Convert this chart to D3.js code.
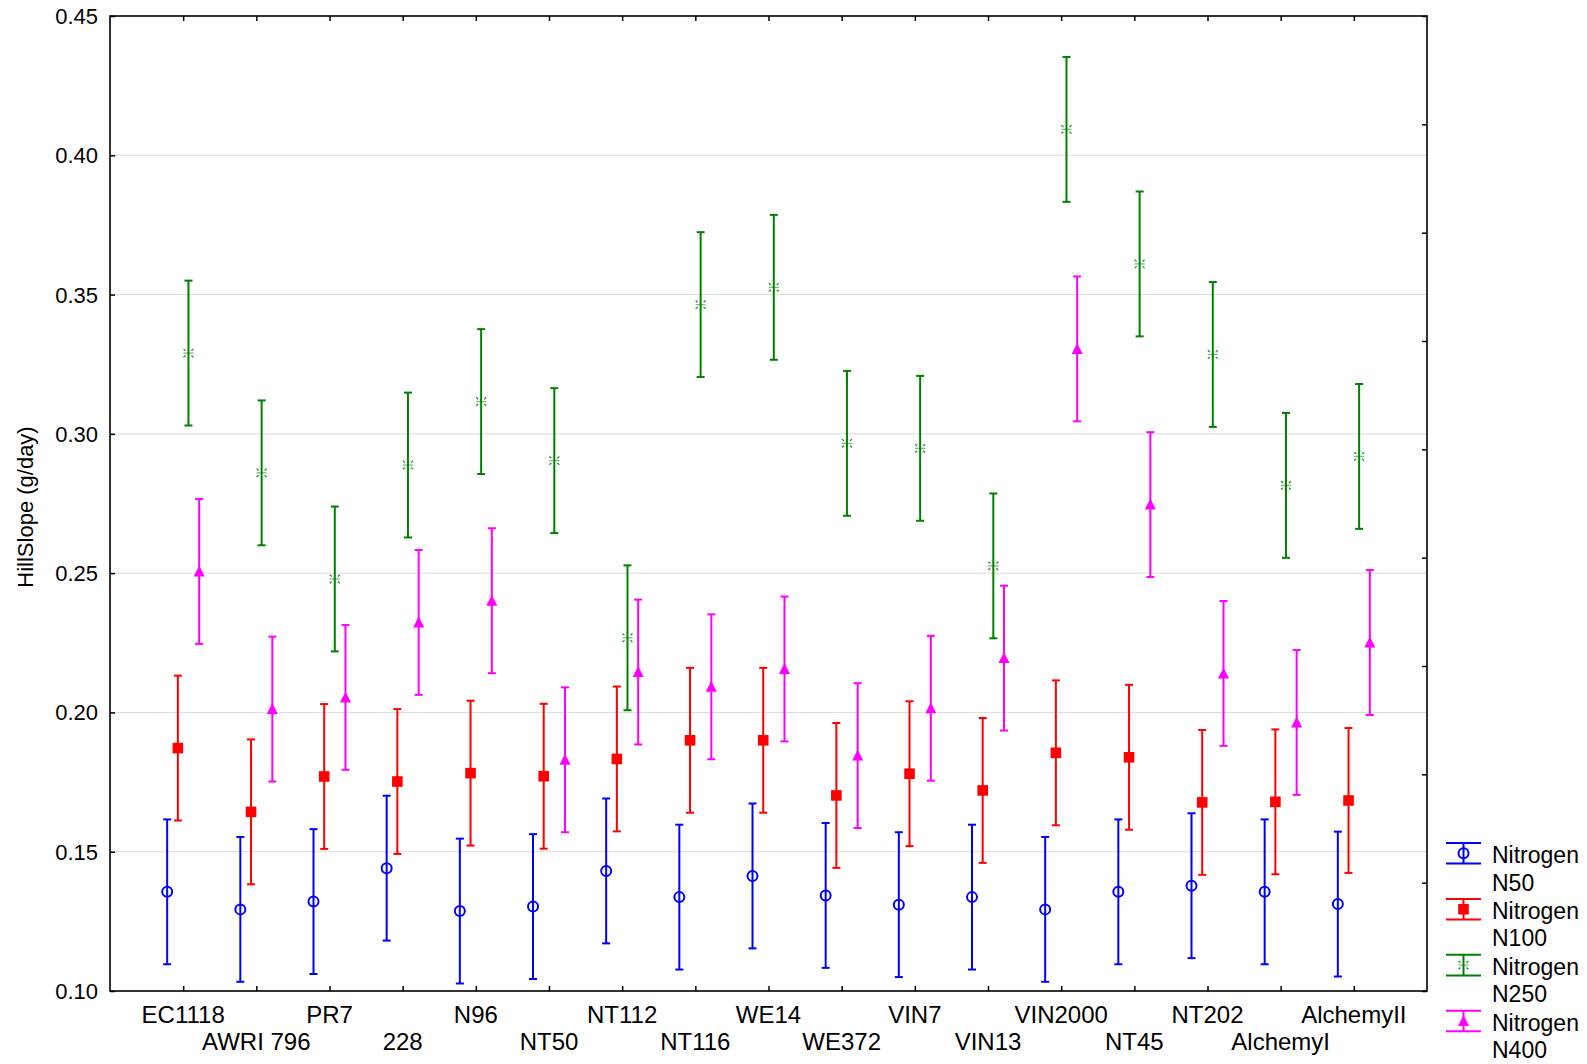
<!DOCTYPE html>
<html>
<head>
<meta charset="utf-8">
<script src="https://cdn.jsdelivr.net/npm/d3@7"></script>
<style>
  body { margin: 0; background: #fff; }
  text { font-family: Arial, "Liberation Sans", sans-serif; fill: #000; }
</style>
</head>
<body>
<svg id="chart" width="1587" height="1064"></svg>
<script>
// Yeast strains on the x axis
const strains = ["EC1118", "AWRI 796", "PR7", "228", "N96", "NT50", "NT112", "NT116", "WE14",
                 "WE372", "VIN7", "VIN13", "VIN2000", "NT45", "NT202", "AlchemyI", "AlchemyII"];

// Mean HillSlope (g/day) per strain for each nitrogen level
const n50  = [0.1356, 0.1293, 0.1321, 0.1441, 0.1287, 0.1303, 0.1431, 0.1337, 0.1413,
              0.1343, 0.1310, 0.1337, 0.1293, 0.1356, 0.1378, 0.1356, 0.1312];
const n100 = [0.1872, 0.1643, 0.1770, 0.1752, 0.1782, 0.1771, 0.1833, 0.1900, 0.1900,
              0.1702, 0.1780, 0.1720, 0.1855, 0.1839, 0.1677, 0.1679, 0.1684];
const n250 = [0.3290, 0.2860, 0.2479, 0.2888, 0.3116, 0.2904, 0.2268, 0.3464, 0.3526,
              0.2966, 0.2948, 0.2526, 0.4093, 0.3610, 0.3285, 0.2815, 0.2919];
const n400 = [0.2506, 0.2012, 0.2054, 0.2323, 0.2401, 0.1830, 0.2145, 0.2092, 0.2156,
              0.1845, 0.2015, 0.2195, 0.3305, 0.2746, 0.2140, 0.1964, 0.2251];

// Half-width of the confidence interval (pooled, same for every mean)
const ciHalf = 0.026;

const seriesLabels = [["Nitrogen", "N50"], ["Nitrogen", "N100"], ["Nitrogen", "N250"], ["Nitrogen", "N400"]];
const yTicks = [0.10, 0.15, 0.20, 0.25, 0.30, 0.35, 0.40, 0.45];
const yTitle = "HillSlope (g/day)";

const seriesValues = [n50, n100, n250, n400];
const colors = ["#0000ff", "#ff0000", "#008000", "#ff00ff"];
const symbols = ["circle", "square", "asterisk", "triangle"];

const svg = d3.select("#chart");
const L = 110, R = 1427, T = 16, B = 991;

const x = d3.scalePoint().domain(strains).range([L, R]).padding(1);
const y = d3.scaleLinear().domain([0.10, 0.45]).range([B, T]);
const offsets = [-16, -5.3, 5.3, 16];

// horizontal grid
svg.append("g").selectAll("line")
  .data(yTicks.filter(t => t > 0.10 && t < 0.45))
  .join("line")
  .attr("x1", L).attr("x2", R)
  .attr("y1", d => y(d)).attr("y2", d => y(d))
  .attr("stroke", "#dcdcdc").attr("stroke-width", 1);

// axes: ticks pointing inward
const fmt = d3.format(".2f");
const leftAxis = svg.append("g").attr("transform", `translate(${L},0)`)
  .call(d3.axisRight(y).tickValues(yTicks).tickSize(5).tickFormat(""));
const bottomAxis = svg.append("g").attr("transform", `translate(0,${B})`)
  .call(d3.axisTop(x).tickSize(5).tickFormat(""));
const topAxis = svg.append("g").attr("transform", `translate(0,${T})`)
  .call(d3.axisBottom(x).tickSize(5).tickFormat(""));
const yRight = d3.scaleLinear().domain([0, 9]).range([B, T]);
const rightAxis = svg.append("g").attr("transform", `translate(${R},0)`)
  .call(d3.axisLeft(yRight).ticks(9).tickSize(5).tickFormat(""));
[leftAxis, bottomAxis, topAxis, rightAxis].forEach(g => {
  g.select(".domain").remove();
  g.selectAll(".tick line").attr("stroke", "#000").attr("stroke-width", 1.5);
});

// frame
svg.append("rect").attr("x", L).attr("y", T).attr("width", R - L).attr("height", B - T)
  .attr("fill", "none").attr("stroke", "#000").attr("stroke-width", 1.6);

// y tick labels
svg.append("g").selectAll("text").data(yTicks).join("text")
  .attr("x", 98).attr("y", d => y(d) + 8)
  .attr("text-anchor", "end").attr("font-size", 22)
  .text(d => fmt(d));

// x tick labels, staggered on two rows
svg.append("g").selectAll("text").data(strains).join("text")
  .attr("x", d => x(d))
  .attr("y", (d, i) => i % 2 === 0 ? 1023 : 1050)
  .attr("text-anchor", "middle").attr("font-size", 24)
  .text(d => d);

// y axis title
svg.append("text")
  .attr("transform", "translate(33,507) rotate(-90)")
  .attr("text-anchor", "middle").attr("font-size", 22)
  .text(yTitle);

function drawSymbol(g, kind, color) {
  if (kind === "circle") {
    g.append("circle").attr("r", 5).attr("fill", "none").attr("stroke", color).attr("stroke-width", 2);
  } else if (kind === "square") {
    g.append("rect").attr("x", -5.3).attr("y", -5.3).attr("width", 10.6).attr("height", 10.6).attr("fill", color);
  } else if (kind === "triangle") {
    g.append("path").attr("d", "M0,-6 L5.5,5 L-5.5,5 Z").attr("fill", color);
  } else {
    const a = g.append("g").attr("stroke", color).attr("stroke-width", 1.3).attr("opacity", 0.85);
    [[-1, -1], [1, -1], [-1, 1], [1, 1]].forEach(([sx, sy]) => {
      a.append("line").attr("x1", sx * 5).attr("y1", sy * 4.2).attr("x2", sx * 3).attr("y2", sy * 2.4);
    });
    a.append("line").attr("x1", -5).attr("x2", 5).attr("y1", 0).attr("y2", 0).attr("opacity", 0.6);
  }
}

// error bars and means
seriesValues.forEach((vals, s) => {
  const color = colors[s];
  const g = svg.append("g");
  vals.forEach((v, i) => {
    const cx = x(strains[i]) + offsets[s];
    const yt = y(v + ciHalf), yb = y(v - ciHalf);
    g.append("line").attr("x1", cx).attr("x2", cx).attr("y1", yt).attr("y2", yb)
      .attr("stroke", color).attr("stroke-width", 2);
    [yt, yb].forEach(yy => g.append("line").attr("x1", cx - 4).attr("x2", cx + 4)
      .attr("y1", yy).attr("y2", yy).attr("stroke", color).attr("stroke-width", 2));
    drawSymbol(g.append("g").attr("transform", `translate(${cx},${y(v)})`), symbols[s], color);
  });
});

// legend
const lg = svg.append("g");
seriesLabels.forEach((lab, s) => {
  const y0 = 843 + s * 55.9;
  const color = colors[s];
  const e = lg.append("g");
  [y0, y0 + 20.6].forEach(yy => e.append("line").attr("x1", 1446).attr("x2", 1481)
    .attr("y1", yy).attr("y2", yy).attr("stroke", color).attr("stroke-width", 2));
  e.append("line").attr("x1", 1463.5).attr("x2", 1463.5).attr("y1", y0).attr("y2", y0 + 20.6)
    .attr("stroke", color).attr("stroke-width", 2);
  drawSymbol(e.append("g").attr("transform", `translate(1463.5,${y0 + 10.3})`), symbols[s], color);
  e.append("text").attr("x", 1492).attr("y", y0 + 20).attr("font-size", 23).text(lab[0]);
  e.append("text").attr("x", 1492).attr("y", y0 + 47.5).attr("font-size", 23).text(lab[1]);
});
</script>
</body>
</html>
